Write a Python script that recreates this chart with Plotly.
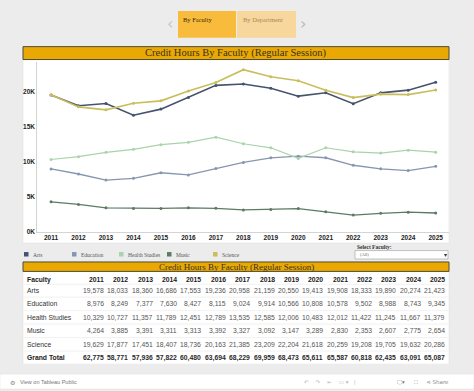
import plotly.graph_objects as go

# ---------------- data ----------------
years = [2011, 2012, 2013, 2014, 2015, 2016, 2017, 2018, 2019, 2020, 2021, 2022, 2023, 2024, 2025]
arts = [19578, 18033, 18360, 16686, 17553, 19236, 20958, 21159, 20550, 19413, 19908, 18333, 19890, 20274, 21423]
education = [8976, 8249, 7377, 7630, 8427, 8115, 9024, 9914, 10566, 10808, 10578, 9502, 8988, 8743, 9345]
health_studies = [10329, 10727, 11357, 11789, 12451, 12789, 13535, 12585, 12006, 10483, 12012, 11422, 11245, 11667, 11379]
music = [4264, 3885, 3391, 3311, 3313, 3392, 3327, 3092, 3147, 3289, 2830, 2353, 2607, 2775, 2654]
science = [19629, 17877, 17451, 18407, 18736, 20163, 21385, 23209, 22204, 21618, 20259, 19208, 19705, 19632, 20286]
grand_total = [62775, 58771, 57936, 57822, 60480, 63694, 68229, 69959, 68473, 65611, 65587, 60818, 62435, 63091, 65087]

faculties = ["Arts", "Education", "Health Studies", "Music", "Science"]
series = [arts, education, health_studies, music, science]
colors = ["#46536f", "#8796b0", "#a9d3ab", "#5d7a64", "#c9be5c"]
widths = [1.6, 1.3, 1.2, 1.3, 1.6]

y_tickvals = [0, 5000, 10000, 15000, 20000]
y_ticktext = ["0K", "5K", "10K", "15K", "20K"]

W, H = 474, 391
def fx(x):
    return x / W
def fy(y):
    return 1 - y / H

fig = go.Figure()

for name, vals, col, lw in zip(faculties, series, colors, widths):
    fig.add_trace(go.Scatter(
        x=years, y=vals, name=name, mode="lines+markers",
        line=dict(color=col, width=lw),
        marker=dict(color=col, size=3),
        showlegend=False, xaxis="x", yaxis="y"))

shapes = []
annotations = []

def rect(x0, y0, x1, y1, fill, line=None, lw=0, layer="above"):
    shapes.append(dict(type="rect", xref="paper", yref="paper",
                       x0=fx(x0), x1=fx(x1), y0=fy(y1), y1=fy(y0),
                       fillcolor=fill, line=dict(color=line or fill, width=lw), layer=layer))

def text(x, y, s, size, color, family="Liberation Serif", xanchor="left", weight="normal"):
    annotations.append(dict(xref="paper", yref="paper", x=fx(x), y=fy(y), text=s,
                            showarrow=False, xanchor=xanchor, yanchor="middle",
                            font=dict(family=family, size=size, color=color, weight=weight)))

# ---------------- table (text cells on a hidden column/row axis pair) ----------------
# x2: column index (year columns 0..14, right edge of each cell); y2: row index (0 header, 1.. body)
COLW, COL0 = 24.36, 106.0
ROWH, ROW0 = 13.6, 279.0
x2_range = [(23 - COL0) / COLW, (449 - COL0) / COLW]
y2_range = [(367 - ROW0) / ROWH, (273.5 - ROW0) / ROWH]
fac_col = (25 - COL0) / COLW

def cell(col, row, s, color, weight="normal", xanchor="right", yshift=0):
    annotations.append(dict(xref="x2", yref="y2", x=col, y=row, text=s, showarrow=False,
                            xanchor=xanchor, yanchor="middle", yshift=yshift,
                            font=dict(family="Liberation Sans", size=6.8, color=color, weight=weight)))

cell(fac_col, 0, "Faculty", "#222222", "bold", "left", -3)
for j, yr in enumerate(years):
    cell(j, 0, str(yr), "#222222", "bold", "right", -3)

row_names = faculties + ["Grand Total"]
row_vals = series + [grand_total]
for k, (nm, vals) in enumerate(zip(row_names, row_vals), start=1):
    bold = nm == "Grand Total"
    cell(fac_col, k, nm, "#222222" if bold else "#333333", "bold" if bold else "normal", "left")
    for j, v in enumerate(vals):
        cell(j, k, f"{v:,}", "#2a2a2a" if bold else "#555555", "bold" if bold else "normal", "right")

# panels
rect(23, 60, 449, 245, "white", "#dcdcdc", 0.5, layer="below")
rect(23, 273, 449, 367, "white", "#dcdcdc", 0.5, layer="below")
# title bars
rect(23, 47, 449, 60, "#e9a902", "#4d4a3a", 1)
text(236, 53.8, "Credit Hours By Faculty (Regular Session)", 10.5, "#3a3220", xanchor="center")
rect(23, 264, 449, 273.5, "#e9a902", "#4d4a3a", 1)
text(236, 268.8, "Credit Hours By Faculty (Regular Session)", 9, "#3a3220", xanchor="center")

# table row separators
for k in [0.55, 1.5, 2.5, 3.5, 4.5, 5.5]:
    shapes.append(dict(type="line", xref="paper", yref="y2", x0=fx(23), x1=fx(449),
                       y0=k, y1=k, line=dict(color="#eeeeee", width=0.8), layer="below"))

# tabs
rect(178, 11, 236, 38, "#f9bb3c")
rect(237, 11, 296, 38, "#f7d79c")
text(181, 20, "By Faculty", 6.5, "#3b2c08")
text(241, 20, "By Department", 6.5, "#a8895a")
text(170, 24, "‹", 16, "#c8c8c8", family="DejaVu Sans", xanchor="center")
text(303, 24, "›", 16, "#b8b8b8", family="DejaVu Sans", xanchor="center")

# legend
leg_x = [24, 72, 119, 167, 213]
for lx, name, col in zip(leg_x, faculties, colors):
    rect(lx, 254, lx + 4.5, 258.5, col)
    text(lx + 7, 256.5, name, 5.5, "#555555")

# selector
text(355, 249, "Select Faculty:", 5.5, "#333333", weight="bold")
rect(355, 252.5, 448, 261, "white", "#9a9a9a", 0.6)
text(358, 256.8, "(All)", 4.5, "#666666")
text(445.5, 256.8, "▾", 6, "#333333", family="DejaVu Sans", xanchor="center")

# footer
rect(0, 377, 474, 392, "white", "#e0e0e0", 0.5)
text(12, 385, "⚙", 6, "#888888", family="DejaVu Sans", xanchor="center")
text(18, 385, "View on Tableau Public", 5.5, "#777777", family="Liberation Sans")
text(330, 385, "↶    ↷    ⇤    ▭ ▾   |", 5.5, "#bbbbbb", family="DejaVu Sans", xanchor="center")
text(395, 385, "🖵▾     ⛶     ⋖ Share", 5.5, "#888888", family="DejaVu Sans", xanchor="left")

fig.update_layout(
    width=W, height=H,
    margin=dict(l=0, r=0, t=0, b=0),
    paper_bgcolor="#ececec",
    plot_bgcolor="white",
    showlegend=False,
    hovermode=False,
    shapes=shapes,
    annotations=annotations,
    xaxis=dict(domain=[fx(37.3), fx(449.4)], range=[2010.5, 2025.5],
               tickvals=years, ticktext=[str(y) for y in years],
               showgrid=False, zeroline=False, showline=True, linecolor="#d4d4d4", linewidth=1,
               ticks="", tickfont=dict(family="Liberation Sans", size=6.5, color="#222222", weight="bold")),
    yaxis=dict(domain=[fy(233.3), fy(62)], range=[0, 24380],
               tickvals=y_tickvals, ticktext=y_ticktext,
               showgrid=False, zeroline=False, showline=True, linecolor="#d4d4d4", linewidth=1,
               ticks="", tickfont=dict(family="Liberation Sans", size=6.5, color="#222222", weight="bold")),
    xaxis2=dict(domain=[fx(23), fx(449)], range=x2_range, visible=False, anchor="y2", fixedrange=True),
    yaxis2=dict(domain=[fy(367), fy(273.5)], range=y2_range, visible=False, anchor="x2", fixedrange=True),
)

fig.write_html("out.html", config={"displayModeBar": False},
               post_script="document.body.style.margin='0';document.body.style.overflow='hidden';")
